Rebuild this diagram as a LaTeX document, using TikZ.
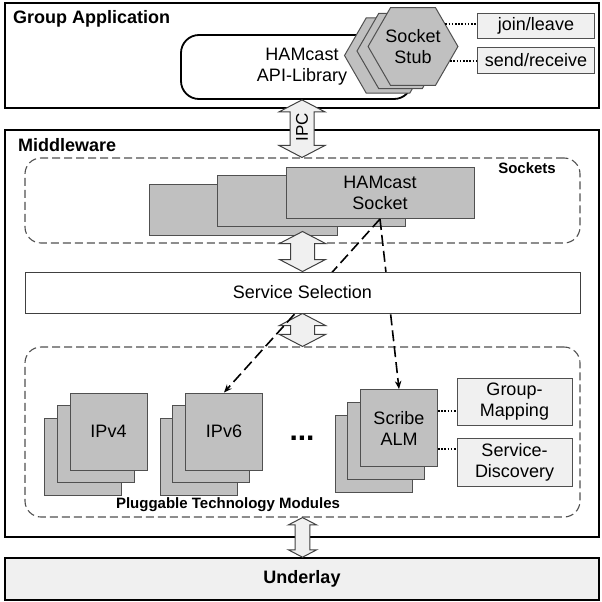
\documentclass[tikz,border=0pt]{standalone}
\usepackage{fontspec}
\setmainfont{Liberation Sans}
\usetikzlibrary{arrows.meta, positioning, shapes.geometric, calc}
\usepackage{xcolor}
\definecolor{stackgray}{RGB}{192,192,192}
\definecolor{boxfill}{RGB}{240,240,240}
\definecolor{edgegray}{RGB}{80,80,80}
\definecolor{framegray}{RGB}{64,64,64}
\newcommand{\txtfont}{\fontsize{18}{21}\selectfont}
\newcommand{\tagfont}{\fontsize{15}{17}\selectfont\bfseries}
\pgfdeclarelayer{front}
\pgfsetlayers{main,front}
% double headed block arrow between two tips (top, bottom, scale)
\newcommand{\fatarrow}[3]{%
  \draw[blockarrow] let \p1=(#1), \p2=(#2),
    \n1={23*#3}, \n2={12*#3}, \n3={12*#3} in
    (\x1,\y1) -- (\x1+\n1,\y1-\n3) -- (\x1+\n2,\y1-\n3) -- (\x1+\n2,\y2+\n3)
    -- (\x1+\n1,\y2+\n3) -- (\x1,\y2) -- (\x1-\n1,\y2+\n3) -- (\x1-\n2,\y2+\n3)
    -- (\x1-\n2,\y1-\n3) -- (\x1-\n1,\y1-\n3) -- cycle;}
\tikzset{
  layer/.style     = {draw=black, line width=1.6pt, inner sep=0pt},
  title/.style     = {font=\txtfont\bfseries, anchor=west, inner sep=0pt},
  apibox/.style    = {draw=black, line width=1.8pt, fill=white, rounded corners=18pt, inner sep=0pt},
  group/.style     = {draw=edgegray, line width=1.1pt, dash pattern=on 8pt off 4pt,
                      rounded corners=16pt, inner sep=0pt},
  tag/.style       = {font=\tagfont, inner sep=0pt},
  card/.style      = {draw=edgegray, line width=1pt, fill=stackgray, inner sep=0pt,
                      align=center, font=\txtfont},
  modsize/.style   = {minimum width=77pt, minimum height=77pt},
  socksize/.style  = {minimum width=188pt, minimum height=51pt},
  hexa/.style      = {regular polygon, regular polygon sides=6, minimum size=87pt,
                      draw=edgegray, line width=1pt, fill=stackgray, inner sep=0pt,
                      align=center, font=\txtfont},
  option/.style    = {draw=edgegray, line width=0.9pt, fill=boxfill, inner sep=0pt,
                      align=center, font=\txtfont},
  selbox/.style    = {draw=framegray, line width=1pt, fill=white, inner sep=0pt, font=\txtfont},
  dotline/.style   = {line width=1.5pt, dash pattern=on 1.6pt off 1.6pt},
  dasharrow/.style = {-{Stealth[length=8pt, width=6.5pt]}, line width=1.6pt,
                      dash pattern=on 11pt off 5pt},
  blockarrow/.style= {draw=framegray, fill=boxfill, line width=1pt, line join=miter},
}

\begin{document}
\begin{tikzpicture}[x=1pt, y=-1pt]
  \useasboundingbox (0,0) rectangle (602,602);
  % Group application
  \node[layer, minimum width=594pt, minimum height=105pt] (app) at (302,55.5) {};
  \node[title] (apptitle) at (13,19) {Group Application};
  \node[apibox, minimum width=231pt, minimum height=64pt] (api) at (296.5,67) {};
  \node[font=\txtfont, align=center, inner sep=0pt] (apitext) at (302,67) {HAMcast\\API-Library};
  \foreach \k in {2,1}
    \node[hexa] (stub\k) at ({413-12.5*\k},{46.5+4.5*\k}) {};
  \node[hexa] (stub) at (413,46.5) {Socket\\Stub};
  \node[option, minimum width=117pt, minimum height=25pt] (join) at (536,25.5) {join/leave};
  \node[option, minimum width=117pt, minimum height=26pt] (send) at (536,60) {send/receive};
  \draw[dotline] (stub.35) -- (stub.35 -| join.west);
  \draw[dotline] (stub.-21) -- (stub.-21 -| send.west);

  % Middleware
  \node[layer, minimum width=594pt, minimum height=407pt] (mid) at (302,333.5) {};
  \node[title] (midtitle) at (18,145) {Middleware};
  \node[group, minimum width=555pt, minimum height=85pt] (sockets) at (302.5,200.5) {};
  \node[tag, anchor=east] (socktag) at (556,168) {Sockets};
  \foreach \k in {2,1}
    \node[card, socksize] (sock\k) at ({380-68.5*\k},{193+8.25*\k}) {};
  \node[card, socksize] (sock) at (380,193) {HAMcast\\Socket};
  \begin{pgfonlayer}{front}
    \node[selbox, minimum width=555pt, minimum height=41pt] (sel) at (302.5,292.5) {Service Selection};
  \end{pgfonlayer}
  \node[group, minimum width=555pt, minimum height=170pt] (plug) at (302.5,432) {};
  \node[tag] (plugtag) at (228,505) {Pluggable Technology Modules};
  \foreach \name/\px/\py/\txt in {ipvfour/108.5/431.5/IPv4, ipvsix/224/431.5/IPv6,
                                 scribe/399/428/{Scribe\\ALM}} {
    \foreach \k in {2,1}
      \node[card, modsize] (\name\k) at ({\px-12.75*\k},{\py+12.75*\k}) {};
    \node[card, modsize] (\name) at (\px,\py) {\txt};
  }
  \node[font=\fontsize{30}{30}\selectfont\bfseries, inner sep=0pt] (etc) at (302,438) {...};
  \node[option, minimum width=115pt, minimum height=47pt] (grpmap) at (514.5,401.5) {Group-\\Mapping};
  \node[option, minimum width=115pt, minimum height=48pt] (srvdisc) at (514.5,462) {Service-\\Discovery};
  \coordinate (gmlink) at ([yshift=17pt]scribe.east);
  \coordinate (sdlink) at ([yshift=-21pt]scribe.east);
  \draw[dotline] (gmlink) -- (gmlink -| grpmap.west);
  \draw[dotline] (sdlink) -- (sdlink -| srvdisc.west);

  % Underlay
  \node[layer, fill=boxfill, minimum width=594pt, minimum height=42pt,
        font=\txtfont\bfseries] (under) at (302,579) {Underlay};

  % block arrows
  \fatarrow{apitext.center |- api.south}{apitext.center |- sockets.north}{1}
  \node[rotate=90, font=\fontsize{17}{17}\selectfont, inner sep=0pt] (ipc) at (302,127.5) {IPC};
  \path (sel.north |- sock2.south) ++(0,-4) coordinate (socktip);
  \fatarrow{socktip}{sel.north}{1}
  \fatarrow{sel.south}{plug.north}{1}
  \fatarrow{plug.south}{under.north}{0.62}

  % socket to module dispatch
  \draw[dasharrow] (sock.south) -- (ipvsix.north);
  \draw[dasharrow] (sock.south) -- (scribe.north);
\end{tikzpicture}
\end{document}
